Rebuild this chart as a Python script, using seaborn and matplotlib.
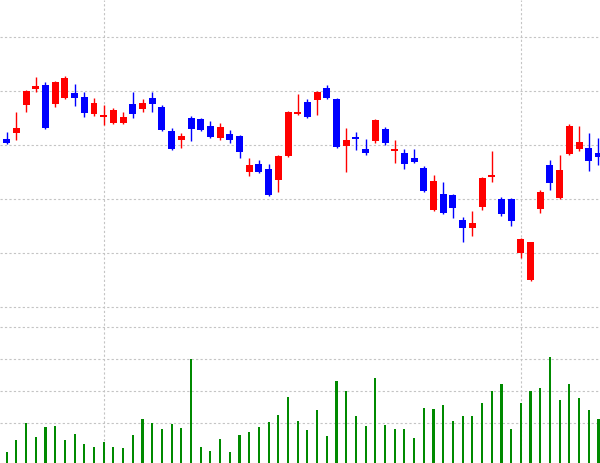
import numpy as np
import pandas as pd
import matplotlib
matplotlib.use("Agg")
import matplotlib.pyplot as plt
import seaborn as sns

# ---- data ----
candle_idx = list(range(-1, 62))
opens = [27.8, 28.2, 28.8, 31.6, 33.2, 33.6, 31.7, 32.3, 32.8, 32.4, 30.7,
         30.4, 29.8, 29.8, 31.7, 31.2, 32.3, 31.4, 29.0, 28.1, 30.3,
         30.2, 29.5, 28.3, 28.7, 28.5, 24.9, 25.7, 25.2, 24.1, 26.5,
         30.7, 31.9, 32.1, 33.3, 32.2, 27.5, 28.4, 27.2, 28.0, 29.2,
         27.0, 26.8, 26.3, 25.3, 21.1, 22.7, 22.6, 20.1, 19.3, 21.4,
         24.4, 22.2, 22.2, 16.8, 14.1, 21.2, 25.6, 22.3, 26.7, 27.2,
         27.3, 26.8]
highs = [28.3, 28.9, 30.9, 33.1, 34.4, 33.9, 34.0, 34.5, 33.7, 32.9, 32.3,
         31.6, 31.3, 30.9, 32.9, 32.2, 32.9, 31.6, 29.3, 28.8, 30.5,
         30.3, 30.0, 29.8, 29.1, 28.6, 26.3, 26.1, 25.7, 26.6, 31.0,
         32.7, 32.2, 33.0, 33.6, 32.3, 29.3, 28.9, 28.2, 30.2, 29.4,
         28.1, 27.2, 27.2, 25.5, 24.6, 23.9, 22.7, 20.4, 21.0, 24.4,
         27.0, 22.4, 22.3, 18.3, 17.9, 23.1, 26.1, 26.6, 29.7, 29.5,
         28.8, 28.3]
lows = [27.6, 27.7, 28.1, 30.9, 32.9, 29.2, 31.4, 32.2, 31.5, 30.4, 30.5,
        29.6, 29.7, 29.7, 30.3, 30.9, 30.9, 29.0, 27.1, 27.3, 28.0,
        29.0, 28.3, 28.1, 27.8, 26.3, 24.5, 24.8, 22.5, 22.9, 26.4,
        30.6, 30.3, 30.6, 32.2, 27.3, 24.9, 27.1, 26.6, 27.8, 27.6,
        25.8, 25.2, 25.8, 22.9, 21.0, 20.7, 20.3, 17.9, 18.5, 21.1,
        23.9, 20.5, 19.5, 16.3, 14.0, 20.8, 23.1, 22.2, 26.6, 27.0,
        25.0, 25.6]
closes = [28.2, 27.8, 29.3, 33.0, 33.5, 29.3, 33.9, 34.3, 32.3, 30.8, 31.8,
          30.6, 31.1, 30.4, 30.7, 31.8, 31.7, 29.1, 27.2, 28.5, 29.2,
          29.1, 28.4, 29.4, 28.1, 26.9, 25.6, 24.9, 22.6, 26.5, 30.9,
          30.9, 30.4, 32.9, 32.3, 27.4, 28.1, 28.2, 26.8, 30.1, 27.8,
          27.2, 25.7, 25.9, 23.0, 24.0, 20.8, 21.3, 19.3, 19.8, 24.3,
          24.6, 20.7, 20.0, 18.2, 17.9, 22.9, 23.8, 25.1, 29.5, 27.9,
          26.0, 26.4]

volume_idx = list(range(0, 62))
volumes = [11.3, 23, 39.7, 26.3, 35.7, 37, 23, 29, 18.7, 16.3,
           21.3, 16.3, 15.3, 28.3, 44, 39.7, 33.7, 39, 35, 104,
           16.3, 12.3, 23.7, 11.3, 27.7, 31, 35.7, 41.3, 48, 65.7,
           42.3, 33, 53, 27.3, 82, 72, 47, 36.7, 85, 38,
           34, 34, 25.3, 55, 53.7, 57.7, 41.7, 47, 47, 60.3,
           72, 78.7, 34.3, 60.3, 72, 75.3, 106, 63, 78.7, 65,
           53.3, 44]

price_grid = [11.4, 16.8, 22.2, 27.6, 33.0, 38.4]
volume_grid = [40, 72, 104, 136]
time_grid = [10, 53]

# ---- styling ----
UP = "#ff0000"
DOWN = "#0000ff"
VOLC = "#008a00"
GRIDC = "#c4c4c4"

sns.set_theme(style="white")
plt.rcParams["font.family"] = ["DejaVu Sans"]

fig = plt.figure(figsize=(6.0, 4.63), dpi=100)
H = 463.0
ax = fig.add_axes([0, (H - 317) / H, 1, 317 / H])
axv = fig.add_axes([0, 0, 1, (H - 317) / H])

df = pd.DataFrame({"idx": candle_idx, "open": opens, "high": highs,
                   "low": lows, "close": closes})
df["up"] = df["close"] >= df["open"]
df["color"] = np.where(df["up"], UP, DOWN)

xlim = (-0.69, 61.16)

def grid(a, hvals):
    for y in hvals:
        a.axhline(y, color=GRIDC, lw=0.8, ls=(0, (2, 2)), zorder=0)
    for x in time_grid:
        a.axvline(x, color=GRIDC, lw=0.8, ls=(0, (2, 2)), zorder=0)

# price panel
grid(ax, price_grid)
ax.vlines(df["idx"], df["low"], df["high"], colors=df["color"], lw=1.0, zorder=2)
body_bottom = np.minimum(df["open"], df["close"])
body_h = np.maximum(np.abs(df["close"] - df["open"]), 0.15)
ax.bar(df["idx"], body_h, bottom=body_bottom, width=0.72, color=df["color"],
       linewidth=0, zorder=3)
ax.set_xlim(*xlim)
ax.set_ylim(10.4, 42.1)

# volume panel
grid(axv, volume_grid)
vdf = pd.DataFrame({"idx": volume_idx, "vol": volumes})
sns.barplot(data=vdf, x="idx", y="vol", native_scale=True, width=0.22,
            color=VOLC, saturation=1, linewidth=0, ax=axv, zorder=3)
axv.set_xlim(*xlim)
axv.set_ylim(0, 146)

for a in (ax, axv):
    a.set_xlabel("")
    a.set_ylabel("")
    a.set_xticks([])
    a.set_yticks([])
    for s in a.spines.values():
        s.set_visible(False)
    a.set_facecolor("none")

fig.savefig("out.png", dpi=100, facecolor="white")
